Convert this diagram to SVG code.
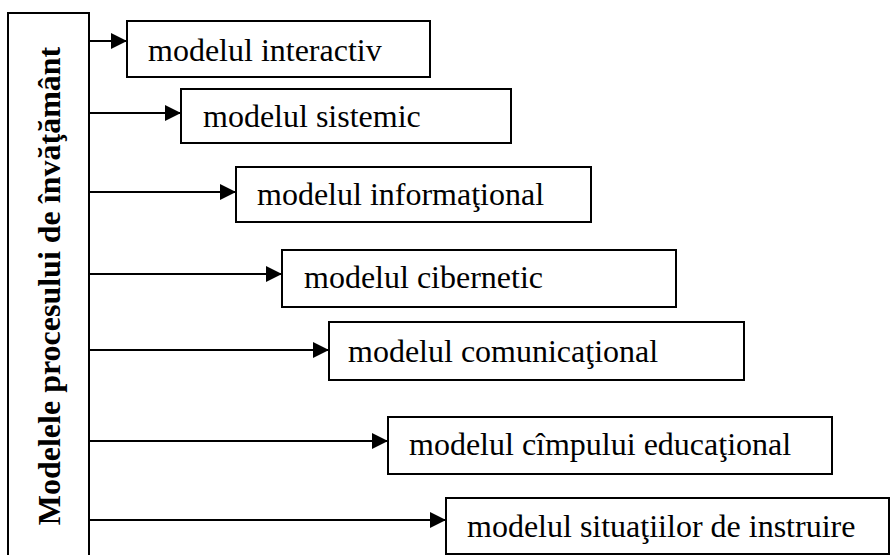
<svg xmlns="http://www.w3.org/2000/svg" width="890" height="555" viewBox="0 0 890 555">
  <style>
    .box { fill: #ffffff; stroke: #000000; stroke-width: 2; }
    .lbl { font-family: "Liberation Serif", "Times New Roman", serif; font-size: 32px; fill: #000000; }
    .title { font-family: "Liberation Serif", "Times New Roman", serif; font-size: 32px; font-weight: bold; fill: #000000; }
    .link { stroke: #000000; stroke-width: 2; fill: none; marker-end: url(#head); }
  </style>
  <defs>
    <marker id="head" markerUnits="userSpaceOnUse" markerWidth="16" markerHeight="16" refX="16" refY="8" orient="auto">
      <path d="M0,0 L16,8 L0,16 Z" fill="#000000"/>
    </marker>
  </defs>
  <rect width="890" height="555" fill="#ffffff"/>

  <!-- root: vertical title bar -->
  <g id="root">
    <rect class="box" x="8" y="13" width="81" height="560"/>
    <text class="title" transform="translate(60,286) rotate(-90)" text-anchor="middle">Modelele procesului de învăţământ</text>
  </g>

  <!-- connectors from the title bar to each model -->
  <g id="connectors">
    <line class="link" x1="89" y1="41" x2="127" y2="41"/>
    <line class="link" x1="89" y1="113" x2="181" y2="113"/>
    <line class="link" x1="89" y1="192" x2="236" y2="192"/>
    <line class="link" x1="89" y1="274" x2="282" y2="274"/>
    <line class="link" x1="89" y1="350" x2="329" y2="350"/>
    <line class="link" x1="89" y1="441" x2="388" y2="441"/>
    <line class="link" x1="89" y1="520" x2="446" y2="520"/>
  </g>

  <g id="m-interactiv">
    <rect class="box" x="127" y="21" width="303" height="56"/>
    <text class="lbl" x="148" y="61">modelul interactiv</text>
  </g>
  <g id="m-sistemic">
    <rect class="box" x="181" y="89" width="330" height="54"/>
    <text class="lbl" x="203" y="127">modelul sistemic</text>
  </g>
  <g id="m-informational">
    <rect class="box" x="236" y="167" width="355" height="55"/>
    <text class="lbl" x="257" y="205">modelul informaţional</text>
  </g>
  <g id="m-cibernetic">
    <rect class="box" x="282" y="250" width="394" height="57"/>
    <text class="lbl" x="304" y="288">modelul cibernetic</text>
  </g>
  <g id="m-comunicational">
    <rect class="box" x="329" y="322" width="415" height="58"/>
    <text class="lbl" x="348" y="362">modelul comunicaţional</text>
  </g>
  <g id="m-campului">
    <rect class="box" x="388" y="417" width="444" height="57"/>
    <text class="lbl" x="409" y="455">modelul cîmpului educaţional</text>
  </g>
  <g id="m-situatiilor">
    <rect class="box" x="446" y="498" width="443" height="56"/>
    <text class="lbl" x="467" y="537">modelul situaţiilor de instruire</text>
  </g>
</svg>
